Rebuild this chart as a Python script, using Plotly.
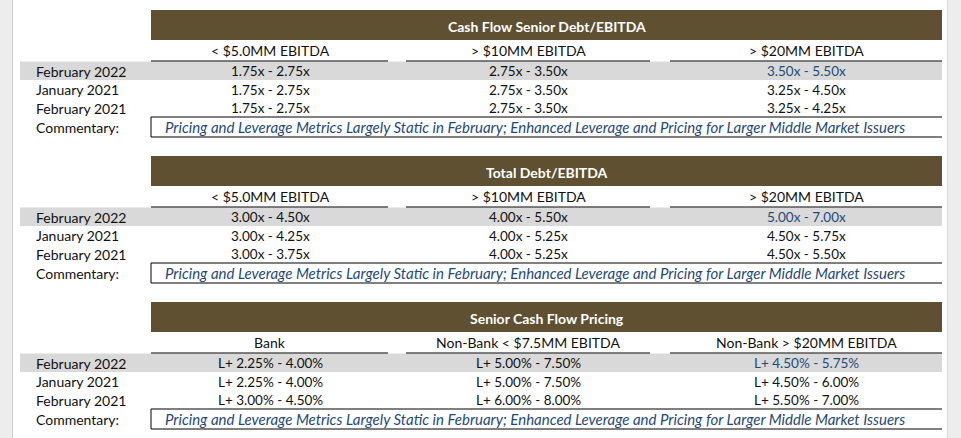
import plotly.graph_objects as go

# ---- data ----
table_titles = ["Cash Flow Senior Debt/EBITDA", "Total Debt/EBITDA", "Senior Cash Flow Pricing"]
column_headers = [
    ["< $5.0MM EBITDA", "> $10MM EBITDA", "> $20MM EBITDA"],
    ["< $5.0MM EBITDA", "> $10MM EBITDA", "> $20MM EBITDA"],
    ["Bank", "Non-Bank < $7.5MM EBITDA", "Non-Bank > $20MM EBITDA"],
]
row_labels = ["February 2022", "January 2021", "February 2021"]
commentary_label = "Commentary:"
senior_debt = [
    ["1.75x - 2.75x", "2.75x - 3.50x", "3.50x - 5.50x"],
    ["1.75x - 2.75x", "2.75x - 3.50x", "3.25x - 4.50x"],
    ["1.75x - 2.75x", "2.75x - 3.50x", "3.25x - 4.25x"],
]
total_debt = [
    ["3.00x - 4.50x", "4.00x - 5.50x", "5.00x - 7.00x"],
    ["3.00x - 4.25x", "4.00x - 5.25x", "4.50x - 5.75x"],
    ["3.00x - 3.75x", "4.00x - 5.25x", "4.50x - 5.50x"],
]
pricing = [
    ["L+ 2.25% - 4.00%", "L+ 5.00% - 7.50%", "L+ 4.50% - 5.75%"],
    ["L+ 2.25% - 4.00%", "L+ 5.00% - 7.50%", "L+ 4.50% - 6.00%"],
    ["L+ 3.00% - 4.50%", "L+ 6.00% - 8.00%", "L+ 5.50% - 7.00%"],
]
commentaries = [
    "Pricing and Leverage Metrics Largely Static in February; Enhanced Leverage and Pricing for Larger Middle Market Issuers",
    "Pricing and Leverage Metrics Largely Static in February; Enhanced Leverage and Pricing for Larger Middle Market Issuers",
    "Pricing and Leverage Metrics Largely Static in February; Enhanced Leverage and Pricing for Larger Middle Market Issuers",
]
tables = [senior_debt, total_debt, pricing]

# ---- style / layout ----
W, H = 961, 438
FONT = "Lato"
BROWN = "#5E5030"
GRAY = "#D9D9D9"
BLUE = "#1F4A78"
TXT = "#111111"
table_tops = [10, 156, 302]
col_centers = [270, 528, 806]
col_lines = [(151, 388), (406, 650), (670, 942)]
X0, X1 = 151, 942

fig = go.Figure()
shapes = []
ann = []

# side strips
shapes.append(dict(type="rect", x0=0, x1=12, y0=0, y1=H, fillcolor="#EDEDED", line_width=0, layer="below"))
shapes.append(dict(type="line", x0=12.5, x1=12.5, y0=0, y1=H, line=dict(color="#D0D0D0", width=1)))
shapes.append(dict(type="rect", x0=947, x1=W, y0=0, y1=H, fillcolor="#EDEDED", line_width=0, layer="below"))
shapes.append(dict(type="line", x0=947.5, x1=947.5, y0=0, y1=H, line=dict(color="#D6D6D6", width=1)))

for t, top in enumerate(table_tops):
    data = tables[t]
    # title bar
    shapes.append(dict(type="rect", x0=X0, x1=X1, y0=top, y1=top + 30, fillcolor=BROWN, line_width=0, layer="below"))
    ann.append(dict(x=(X0 + X1) / 2, y=top + 16, text="<b>" + table_titles[t] + "</b>", showarrow=False,
                    font=dict(family=FONT, size=14, color="white"), xanchor="center", yanchor="middle"))
    # column headers
    hy = top + 40
    for c in range(3):
        ann.append(dict(x=col_centers[c], y=hy, text=column_headers[t][c], showarrow=False,
                        font=dict(family=FONT, size=14, color=TXT), xanchor="center", yanchor="middle"))
        shapes.append(dict(type="line", x0=col_lines[c][0], x1=col_lines[c][1], y0=top + 51, y1=top + 51,
                           line=dict(color="black", width=1)))
    # highlighted row
    shapes.append(dict(type="rect", x0=20, x1=X1, y0=top + 51.5, y1=top + 70, fillcolor=GRAY, line_width=0, layer="below"))
    for r in range(3):
        ry = top + 61 + r * 18.5
        ann.append(dict(x=34, y=ry, text=row_labels[r], showarrow=False,
                        font=dict(family=FONT, size=14, color=TXT), xanchor="left", yanchor="middle"))
        for c in range(3):
            col = BLUE if (r == 0 and c == 2) else TXT
            ann.append(dict(x=col_centers[c], y=ry, text=data[r][c], showarrow=False,
                            font=dict(family=FONT, size=13.5, color=col), xanchor="center", yanchor="middle"))
    # commentary box
    cy0, cy1 = top + 107, top + 127
    shapes.append(dict(type="line", x0=X0, x1=X1, y0=cy0, y1=cy0, line=dict(color="black", width=1)))
    shapes.append(dict(type="line", x0=X0, x1=X1, y0=cy1, y1=cy1, line=dict(color="black", width=1)))
    shapes.append(dict(type="line", x0=X0, x1=X0, y0=cy0, y1=cy1, line=dict(color="black", width=1)))
    ann.append(dict(x=34, y=(cy0 + cy1) / 2, text=commentary_label, showarrow=False,
                    font=dict(family=FONT, size=14, color=TXT), xanchor="left", yanchor="middle"))
    ann.append(dict(x=535, y=(cy0 + cy1) / 2 - 0.5, text="<i>" + commentaries[t] + "</i>", showarrow=False,
                    font=dict(family=FONT, size=15, color=BLUE), xanchor="center", yanchor="middle"))

fig.update_layout(
    width=W, height=H, margin=dict(l=0, r=0, t=0, b=0),
    paper_bgcolor="white", plot_bgcolor="white",
    xaxis=dict(range=[0, W], visible=False, fixedrange=True),
    yaxis=dict(range=[H, 0], visible=False, fixedrange=True),
    shapes=shapes, annotations=ann, showlegend=False,
)
fig.write_html("out.html", config={"displayModeBar": False},
               post_script="document.body.style.margin='0';document.body.style.overflow='hidden';")
